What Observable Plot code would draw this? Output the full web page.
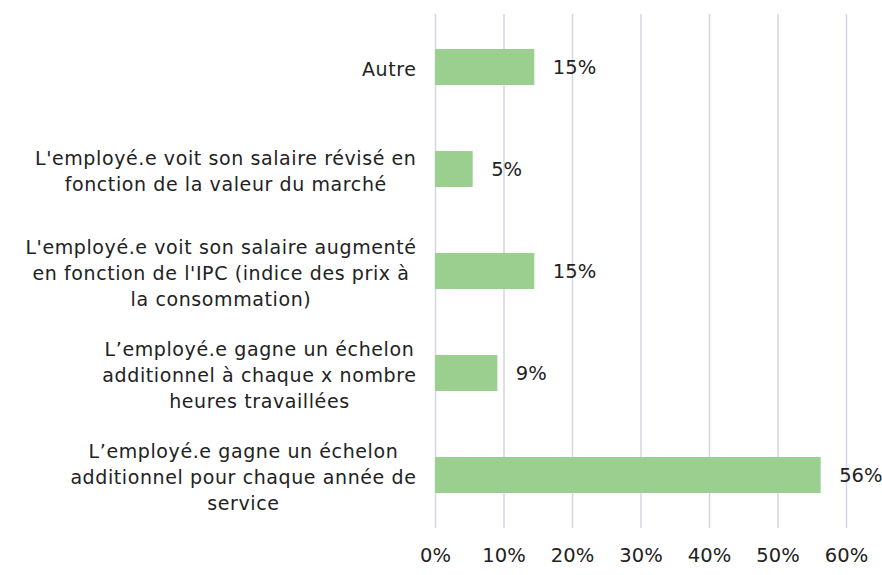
<!DOCTYPE html>
<html>
<head>
<meta charset="utf-8">
<script src="https://cdn.jsdelivr.net/npm/d3@7"></script>
<script src="https://cdn.jsdelivr.net/npm/@observablehq/plot@0.6"></script>
<style>
  html, body { margin: 0; padding: 0; background: #fff; }
  #chart { width: 882px; height: 575px; }
  .catlabel text { letter-spacing: 0.6px; }
</style>
</head>
<body>
<div id="chart"></div>
<script>
const categories = [
  "Autre",
  "L'employé.e voit son salaire révisé en\nfonction de la valeur du marché",
  "L'employé.e voit son salaire augmenté\nen fonction de l'IPC (indice des prix à\nla consommation)",
  "L’employé.e gagne un échelon\nadditionnel à chaque x nombre\nheures travaillées",
  "L’employé.e gagne un échelon\nadditionnel pour chaque année de\nservice"
];
const values = [14.5, 5.5, 14.5, 9.1, 56.3];
const valueLabels = ["15%", "5%", "15%", "9%", "56%"];
const xTicks = [0, 10, 20, 30, 40, 50, 60];

const data = categories.map((c, i) => ({cat: c, value: values[i], label: valueLabels[i]}));

const FONT = "DejaVu Sans";
const FS = 19;
const LS = 0.6;
const ctx = document.createElement("canvas").getContext("2d");
ctx.font = `${FS}px "${FONT}"`;
const blockWidth = c => d3.max(c.split("\n"), l => ctx.measureText(l).width + LS * l.length);

const labelMarks = data.map(d => Plot.text([d], {
  x: () => 0,
  y: "cat",
  text: "cat",
  textAnchor: "middle",
  lineAnchor: "middle",
  lineHeight: 1.39,
  dx: -(19 + blockWidth(d.cat) / 2),
  fontSize: FS,
  fill: "#222",
  className: "catlabel"
}));

const chart = Plot.plot({
  width: 882,
  height: 575,
  marginLeft: 435,
  marginRight: 36,
  marginTop: 14,
  marginBottom: 47,
  style: {fontFamily: FONT, background: "#fff", overflow: "visible"},
  x: {domain: [0, 60], ticks: xTicks, label: null},
  y: {domain: categories, paddingInner: 0.65, paddingOuter: 0.325, axis: null},
  marks: [
    Plot.ruleX(xTicks, {stroke: "#d3d6e0", strokeWidth: 1.5}),
    Plot.barX(data, {x: "value", y: "cat", fill: "#9bcf8f"}),
    Plot.text(data, {x: "value", y: "cat", text: "label", textAnchor: "start", dx: 18, fontSize: 19.5, fill: "#222"}),
    ...labelMarks,
    Plot.axisX(xTicks, {tickSize: 0, tickPadding: 20, tickFormat: d => d + "%", fontSize: 19.5, fill: "#222", label: null})
  ]
});
document.getElementById("chart").appendChild(chart);
</script>
</body>
</html>
